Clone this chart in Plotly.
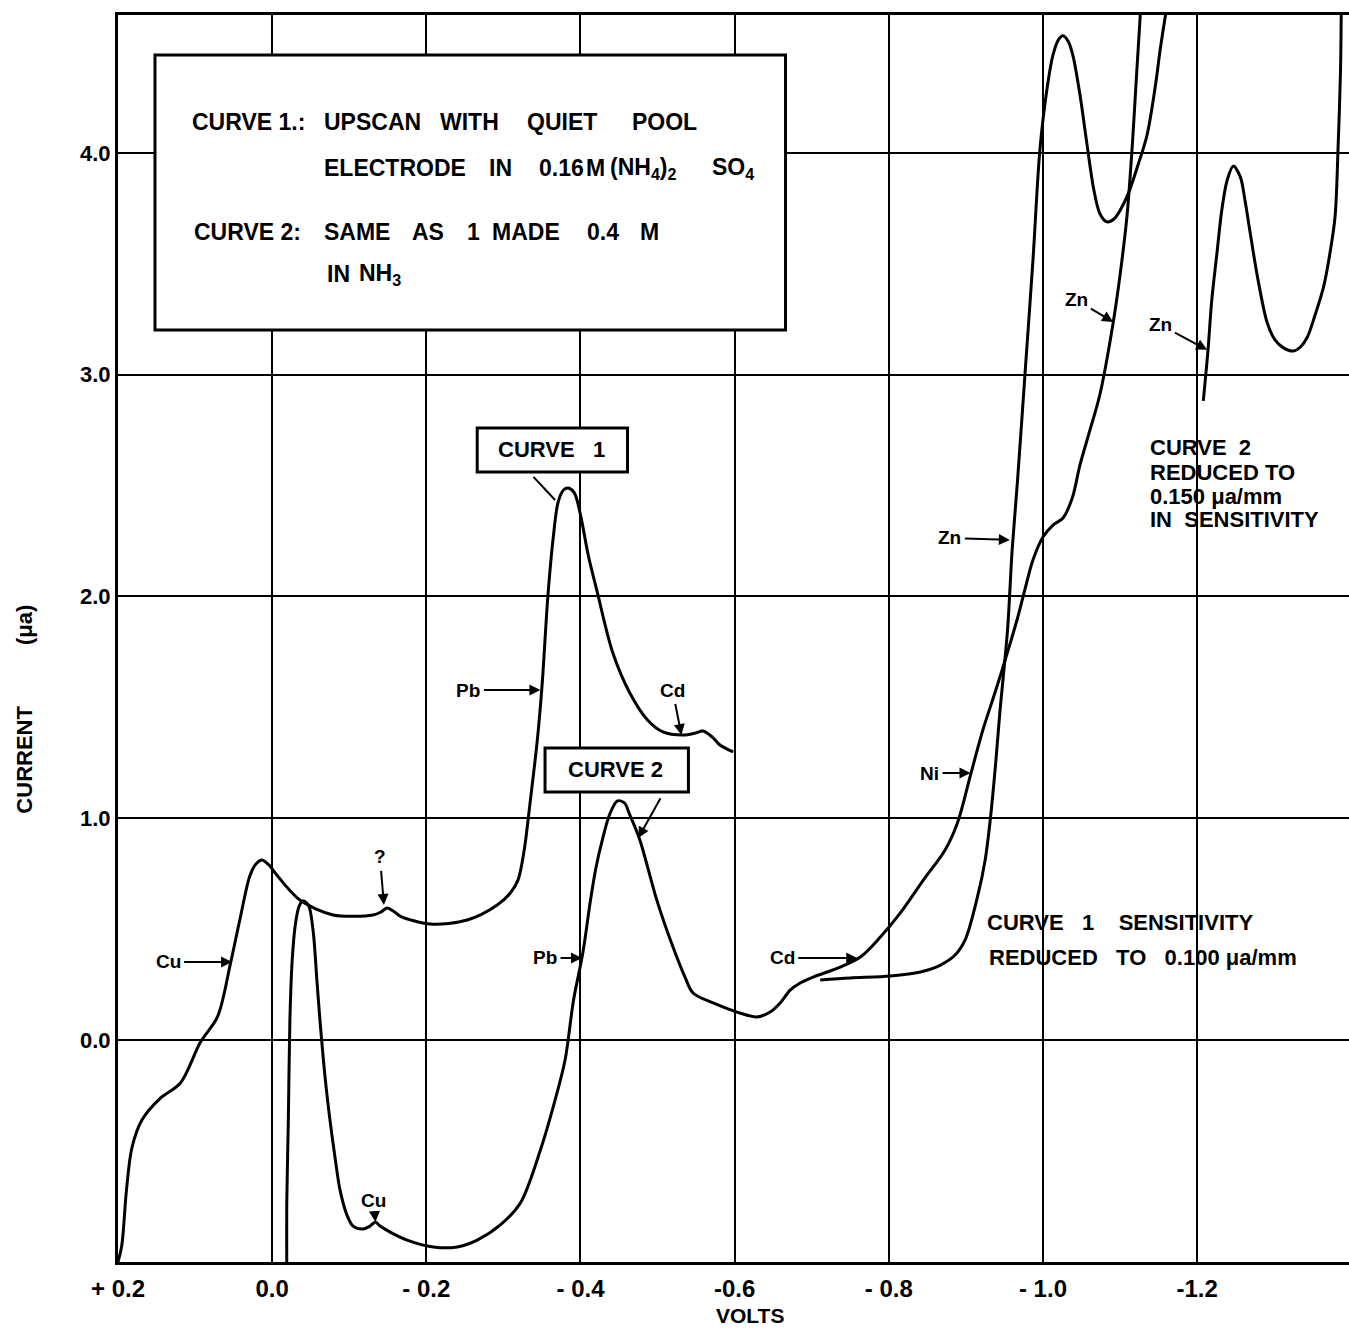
import plotly.graph_objects as go

# ---------------- data (volts, microamperes) ----------------
curve1_v = [0.200, 0.195, 0.189, 0.182, 0.169, 0.145, 0.119, 0.093, 0.071, 0.054, 0.042, 0.029,
            0.021, 0.013, 0.003, -0.006, -0.036, -0.079, -0.131, -0.141, -0.149, -0.157, -0.166,
            -0.205, -0.253, -0.292, -0.309, -0.319, -0.327, -0.335, -0.344, -0.350, -0.358, -0.365,
            -0.371, -0.378, -0.384, -0.392, -0.400, -0.410, -0.422, -0.442, -0.464, -0.487, -0.507,
            -0.533, -0.549, -0.559, -0.571, -0.581, -0.598]
curve1_i = [-1.000, -0.924, -0.676, -0.487, -0.361, -0.262, -0.194, -0.009, 0.104, 0.347, 0.541, 0.740,
            0.794, 0.812, 0.785, 0.744, 0.631, 0.564, 0.564, 0.577, 0.595, 0.582, 0.559,
            0.523, 0.541, 0.609, 0.663, 0.722, 0.857, 1.082, 1.353, 1.592, 2.016, 2.277,
            2.426, 2.480, 2.489, 2.467, 2.368, 2.187, 2.016, 1.745, 1.565, 1.443, 1.389,
            1.375, 1.384, 1.393, 1.366, 1.330, 1.299]

curve1_low_v = [-0.711, -0.750, -0.802, -0.841, -0.867, -0.886, -0.899, -0.915, -0.925, -0.932, -0.939,
                -0.944, -0.954, -0.960, -0.967, -0.977, -0.987, -0.996, -1.005, -1.013, -1.020, -1.026,
                -1.033, -1.039, -1.048, -1.057, -1.066, -1.074, -1.083, -1.092, -1.101, -1.111, -1.122,
                -1.135, -1.146, -1.152, -1.161]
curve1_low_i = [0.271, 0.280, 0.289, 0.307, 0.338, 0.383, 0.451, 0.645, 0.812, 1.006, 1.263,
                1.475, 1.849, 2.210, 2.525, 3.021, 3.517, 4.014, 4.284, 4.442, 4.510, 4.528,
                4.501, 4.437, 4.262, 4.041, 3.833, 3.725, 3.689, 3.702, 3.747, 3.820, 3.932,
                4.081, 4.307, 4.465, 4.667]

curve2_v = [-0.019, -0.019, -0.021, -0.023, -0.026, -0.030, -0.035, -0.040, -0.047, -0.053, -0.058,
            -0.062, -0.069, -0.075, -0.082, -0.088, -0.097, -0.105, -0.118, -0.127, -0.134, -0.140,
            -0.153, -0.175, -0.209, -0.240, -0.266, -0.296, -0.322, -0.348, -0.367, -0.380, -0.391,
            -0.403, -0.413, -0.420, -0.429, -0.438, -0.448, -0.457, -0.464, -0.477, -0.499, -0.520,
            -0.536, -0.546, -0.572, -0.603, -0.629, -0.646, -0.659, -0.672, -0.685, -0.702, -0.737,
            -0.763, -0.789, -0.815, -0.845, -0.873, -0.889, -0.906, -0.922, -0.938, -0.951, -0.967,
            -0.977, -0.987, -1.000, -1.013, -1.026, -1.038, -1.048, -1.061, -1.074, -1.091, -1.100,
            -1.109, -1.116, -1.121, -1.127]
curve2_i = [-1.060, -0.722, -0.361, 0.090, 0.361, 0.519, 0.604, 0.627, 0.609, 0.496, 0.271,
            0.090, -0.180, -0.361, -0.541, -0.676, -0.789, -0.839, -0.852, -0.839, -0.821, -0.839,
            -0.866, -0.902, -0.933, -0.933, -0.902, -0.834, -0.735, -0.496, -0.271, -0.090, 0.180,
            0.392, 0.631, 0.776, 0.911, 1.019, 1.078, 1.069, 1.015, 0.902, 0.631, 0.419,
            0.280, 0.212, 0.167, 0.126, 0.104, 0.126, 0.167, 0.225, 0.257, 0.284, 0.329,
            0.374, 0.464, 0.573, 0.722, 0.857, 0.979, 1.195, 1.398, 1.569, 1.714, 1.903,
            2.038, 2.165, 2.268, 2.322, 2.354, 2.444, 2.593, 2.751, 2.913, 3.233, 3.450,
            3.716, 4.041, 4.329, 4.667]

curve2_low_v = [-1.208, -1.214, -1.219, -1.226, -1.232, -1.239, -1.247, -1.256, -1.262, -1.269, -1.279,
                -1.291, -1.301, -1.312, -1.325, -1.334, -1.343, -1.353, -1.364, -1.373, -1.379, -1.383,
                -1.386, -1.387]
curve2_low_i = [2.882, 3.107, 3.337, 3.558, 3.743, 3.878, 3.941, 3.892, 3.788, 3.635, 3.427,
                3.233, 3.157, 3.121, 3.107, 3.125, 3.170, 3.269, 3.396, 3.563, 3.716, 4.041,
                4.374, 4.667]

x_tick_vals = [0.2, 0.0, -0.2, -0.4, -0.6, -0.8, -1.0, -1.2]
x_tick_text = ["+\u00a00.2", "0.0", "-\u00a00.2", "-\u00a00.4", "-0.6", "-\u00a00.8", "-\u00a01.0", "-1.2"]
y_tick_vals = [0, 1, 2, 3, 4]
y_tick_text = ["0.0", "1.0", "2.0", "3.0", "4.0"]

FONT = "Liberation Sans, Arial, sans-serif"
NB = "\u00a0"

fig = go.Figure()
line_style = dict(color="black", width=3, shape="spline", smoothing=0.9)
for xs, ys, nm in [(curve1_v, curve1_i, "Curve 1"),
                   (curve1_low_v, curve1_low_i, "Curve 1 (reduced sensitivity)"),
                   (curve2_v, curve2_i, "Curve 2"),
                   (curve2_low_v, curve2_low_i, "Curve 2 (reduced sensitivity)")]:
    fig.add_trace(go.Scatter(x=xs, y=ys, mode="lines", line=line_style, name=nm,
                             showlegend=False, hoverinfo="x+y"))

# ---------------- boxes ----------------
shapes = [
    dict(type="rect", xref="x", yref="y", x0=0.152, x1=-0.666, y0=3.202, y1=4.442,
         line=dict(color="black", width=3), fillcolor="white", layer="above"),
    dict(type="rect", xref="x", yref="y", x0=-0.266, x1=-0.461, y0=2.561, y1=2.760,
         line=dict(color="black", width=3), fillcolor="white", layer="above"),
    dict(type="rect", xref="x", yref="y", x0=-0.354, x1=-0.540, y0=1.118, y1=1.317,
         line=dict(color="black", width=3), fillcolor="white", layer="above"),
    dict(type="line", xref="x", yref="y", x0=-0.339, y0=2.539, x1=-0.367, y1=2.435,
         line=dict(color="black", width=2)),
]

ann = []
def txt(x, y, s, size=21, xanchor="left", yanchor="middle"):
    ann.append(dict(x=x, y=y, xref="x", yref="y", text=s, showarrow=False,
                    xanchor=xanchor, yanchor=yanchor,
                    font=dict(family=FONT, size=size, color="black", weight="bold")))

def arrow(x, y, ax, ay, s, size=19):
    ann.append(dict(x=x, y=y, xref="x", yref="y", ax=ax, ay=ay, axref="pixel", ayref="pixel",
                    text=s, showarrow=True, arrowhead=2, arrowsize=1.1, arrowwidth=2,
                    arrowcolor="black", standoff=0, startstandoff=2,
                    font=dict(family=FONT, size=size, color="black", weight="bold")))

# legend-box text, word by word
BOX = 23
txt(0.106, 4.140, "CURVE 1.:", BOX)
for xv, w in [(-0.065, "UPSCAN"), (-0.215, "WITH"), (-0.328, "QUIET"), (-0.464, "POOL")]:
    txt(xv, 4.140, w, BOX)
for xv, w in [(-0.065, "ELECTRODE"), (-0.279, "IN"), (-0.344, "0.16"), (-0.405, "M"),
              (-0.436, "(NH<sub>4</sub>)<sub>2</sub>"), (-0.568, "SO<sub>4</sub>")]:
    txt(xv, 3.932, w, BOX)
txt(0.104, 3.644, "CURVE 2:", BOX)
for xv, w in [(-0.065, "SAME"), (-0.179, "AS"), (-0.250, "1"), (-0.283, "MADE"),
              (-0.406, "0.4"), (-0.475, "M")]:
    txt(xv, 3.644, w, BOX)
txt(-0.068, 3.454, "IN", BOX)
txt(-0.110, 3.454, "NH<sub>3</sub>", BOX)

# curve label boxes
txt(-0.363, 2.661, f"CURVE{NB*3}1", 22, xanchor="center")
txt(-0.446, 1.218, "CURVE 2", 22, xanchor="center")
arrow(-0.475, 0.911, 24, -43, "")

# sensitivity notes
txt(-1.136, 2.670, f"CURVE{NB*2}2", 22)
txt(-1.136, 2.561, f"REDUCED{NB}TO", 22)
txt(-1.136, 2.453, "0.150 \u03bca/mm", 22)
txt(-1.136, 2.345, f"IN{NB*2}SENSITIVITY", 22)
txt(-0.925, 0.528, f"CURVE{NB*3}1{NB*4}SENSITIVITY", 22)
txt(-0.928, 0.374, f"REDUCED{NB*3}TO{NB*3}0.100{NB}\u03bca/mm", 22)

# element markers
arrow(0.052, 0.352, -64, 0, "Cu")
arrow(-0.145, 0.609, -4, -48, "?")
arrow(-0.134, -0.821, -2, -22, "Cu")
arrow(-0.348, 1.578, -72, 0, "Pb")
arrow(-0.531, 1.375, -9, -45, "Cd")
arrow(-0.402, 0.370, -37, 0, "Pb")
arrow(-0.759, 0.370, -75, 0, "Cd")
arrow(-0.906, 1.204, -41, 0, "Ni")
arrow(-0.957, 2.255, -60, -2, "Zn")
arrow(-1.091, 3.238, -37, -22, "Zn")
arrow(-1.213, 3.112, -47, -25, "Zn")

# axis titles
ann.append(dict(x=0.513, y=-0.043, xref="paper", yref="paper", text="VOLTS", showarrow=False,
                xanchor="center", yanchor="middle",
                font=dict(family=FONT, size=21, color="black", weight="bold")))
ann.append(dict(x=-0.0755, y=0.443, xref="paper", yref="paper", text="CURRENT" + NB * 10 + "(\u03bca)",
                showarrow=False, textangle=-90, xanchor="center", yanchor="middle",
                font=dict(family=FONT, size=22, color="black", weight="bold")))

fig.update_layout(
    width=1349, height=1331,
    margin=dict(l=118, r=0, t=15, b=69),
    paper_bgcolor="white", plot_bgcolor="white",
    shapes=shapes, annotations=ann, showlegend=False,
    xaxis=dict(range=[0.2, -1.397], tickvals=x_tick_vals, ticktext=x_tick_text,
               showgrid=True, gridcolor="black", gridwidth=2, zeroline=False,
               showline=True, linecolor="black", linewidth=3, mirror=True,
               ticks="", ticklabelstandoff=3,
               tickfont=dict(family=FONT, size=24, color="black", weight="bold")),
    yaxis=dict(range=[-1.001, 4.622], tickvals=y_tick_vals, ticktext=y_tick_text,
               showgrid=True, gridcolor="black", gridwidth=2, zeroline=False,
               showline=True, linecolor="black", linewidth=3, mirror=False,
               ticks="", ticklabelstandoff=0,
               tickfont=dict(family=FONT, size=22, color="black", weight="bold")),
)

fig.write_html("out.html")
